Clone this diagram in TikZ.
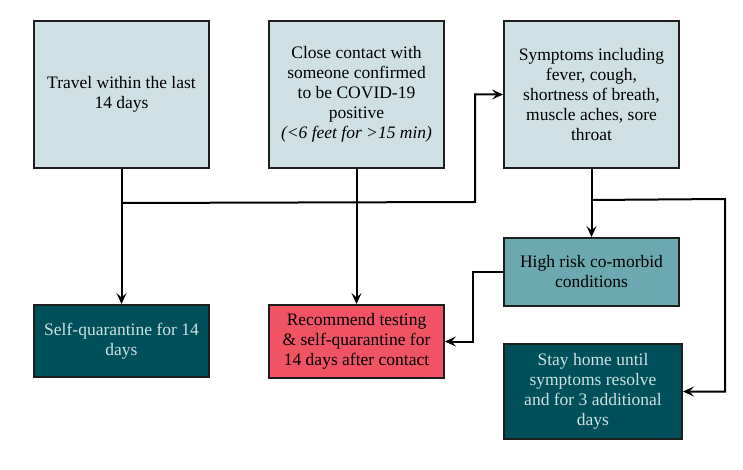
\documentclass[tikz,border=0pt]{standalone}
\usepackage{fontspec}
\setmainfont{Liberation Serif}
\usetikzlibrary{arrows.meta}
\usetikzlibrary{calc}

\definecolor{paleblue}{HTML}{CEE0E3}
\definecolor{midteal}{HTML}{6BA8B0}
\definecolor{darkteal}{HTML}{00505B}
\definecolor{alertred}{HTML}{EF5364}
\definecolor{edgegray}{HTML}{1E1E1E}

\begin{document}
\begin{tikzpicture}[x=1pt, y=-1pt,
    box/.style={draw=edgegray, line width=2pt, rectangle, inner sep=0pt, align=center,
      font=\fontsize{17.5}{20}\selectfont},
    inputbox/.style={box, fill=paleblue, text=black, minimum width=175pt, minimum height=147pt},
    riskbox/.style={box, fill=midteal, text=black, minimum width=175pt, minimum height=68pt},
    outbox/.style={box, fill=darkteal, text=paleblue},
    testbox/.style={box, fill=alertred, text=black, minimum width=175pt, minimum height=73pt},
    arr/.style={-{Stealth[length=11pt, width=10pt, inset=4.5pt]}, line width=2pt},
    link/.style={line width=2pt}]
  \useasboundingbox (0,0) rectangle (743,470);

  \node[inputbox] (travel) at (121.5,94.5) {Travel within the last\\14 days};
  \node[inputbox] (contact) at (356.5,94.5) {Close contact with\\someone confirmed\\to be COVID-19\\positive\\\textit{(<6 feet for >15 min)}};
  \node[inputbox] (symptoms) at (591.5,94.5) {Symptoms including\\fever, cough,\\shortness of breath,\\muscle aches, sore\\throat};

  \node[riskbox] (highrisk) at (591.5,272) {High risk co-morbid\\conditions};

  \node[outbox, minimum width=175pt, minimum height=72pt] (selfquar) at (121.5,341) {Self-quarantine for 14\\days};
  \node[testbox] (recommend) at (356.5,341.5) {Recommend testing\\\& self-quarantine for\\14 days after contact};
  \node[outbox, minimum width=178pt, minimum height=95pt] (stayhome) at (593,391.5) {Stay home until\\symptoms resolve\\and for 3 additional\\days};

  \coordinate (travelsplit) at ($(travel.south)+(0,34)$);
  \coordinate (travelbend) at (475,202);
  \coordinate (symsplit) at ($(symptoms.south)+(0,31)$);
  \coordinate (symbend) at (725,199);

  \draw[arr] (travel) -- (selfquar);
  \draw[arr] (contact) -- (recommend);
  \draw[arr] (symptoms) -- (highrisk);
  \draw[arr] (travelsplit) -- (travelbend) |- (symptoms.west);
  \draw[arr] (symsplit) -- (symbend) |- (stayhome.east);
  \draw[arr] (highrisk.west) -- ++(-30,0) |- (recommend.east);
\end{tikzpicture}
\end{document}
